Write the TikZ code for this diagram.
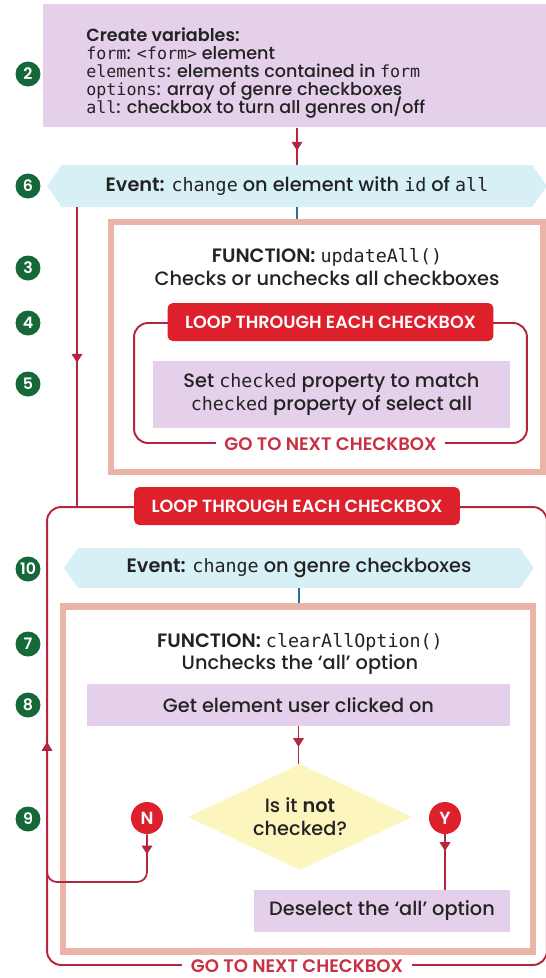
\documentclass[tikz,border=0pt]{standalone}
\usepackage{fontspec}
\setmainfont{Poppins Medium}[BoldFont=Poppins SemiBold]
\setmonofont{DejaVu Sans Mono}[Scale=0.95]
\usetikzlibrary{positioning,arrows.meta,shapes.geometric,shapes.symbols,decorations.markings}

\definecolor{lilac}{RGB}{228,208,234}
\definecolor{skyfill}{RGB}{214,240,246}
\definecolor{salmon}{RGB}{234,180,168}
\definecolor{loopred}{RGB}{222,32,44}
\definecolor{framered}{RGB}{178,38,62}
\definecolor{nextred}{RGB}{200,48,68}
\definecolor{badgegreen}{RGB}{22,104,56}
\definecolor{pale}{RGB}{252,246,190}
\definecolor{linkblue}{RGB}{40,110,160}
\definecolor{inkgray}{RGB}{35,35,35}

\newcommand{\cd}[1]{{\ttfamily #1}}
\newcommand{\tightlines}{\lineskiplimit=-20pt\relax}

\begin{document}
\begin{tikzpicture}[x=0.02cm,y=-0.02cm,font=\fontsize{11}{13}\selectfont,text=inkgray,
  badge/.style={circle,fill=badgegreen,text=white,font=\bfseries\fontsize{9}{9}\selectfont,minimum size=0.5cm,inner sep=0pt},
  lilacbox/.style={fill=lilac,inner sep=0pt,align=center},
  eventbar/.style={shape=signal,signal to=west and east,signal pointer angle=110,fill=skyfill,inner sep=0pt},
  funcbox/.style={draw=salmon,line width=3.5pt,fill=white},
  loopframe/.style={draw=framered,line width=1.1pt,rounded corners=0.28cm},
  looplabel/.style={fill=loopred,text=white,rounded corners=3pt,font=\bfseries\fontsize{10}{10}\selectfont,minimum width=6.52cm,minimum height=0.76cm},
  nextlabel/.style={fill=white,text=nextred,font=\bfseries\fontsize{10.3}{10}\selectfont,inner xsep=5pt,inner ysep=1pt},
  yn/.style={circle,fill=loopred,text=white,font=\bfseries\fontsize{10}{10}\selectfont,minimum size=0.64cm,inner sep=0pt},
  redline/.style={draw=framered,line width=1pt},
  tipat/.style={postaction={decorate},decoration={markings,mark=at position #1 with {\arrow{Triangle[width=6pt,length=5pt]}}}}]
  \useasboundingbox (0,0) rectangle (546,978);
  % variables
  \node[lilacbox,anchor=north west,minimum width=10.06cm,minimum height=2.46cm] (vars) at (43,4) {};
  \node[anchor=west,align=left,inner sep=0pt,font=\fontsize{10}{10.3}\selectfont\tightlines] (varlist) at (86,73)
    {{\bfseries Create variables:}\\
     \cd{form}: \cd{<form>} element\\
     \cd{elements}: elements contained in \cd{form}\\
     \cd{options}: array of genre checkboxes\\
     \cd{all}: checkbox to turn all genres on/off};
  % first event + function
  \node[eventbar,minimum width=10cm,minimum height=0.84cm] (ev1) at (297,186) {{\bfseries Event:} \cd{change} on element with \cd{id} of \cd{all}};
  \node[funcbox,minimum width=8.64cm,minimum height=5cm] (fn1) at (327,347) {};
  \node[align=center] (fn1head) at (327,267) {{\bfseries FUNCTION:} \cd{updateAll()}\\Checks or unchecks all checkboxes};
  \node[loopframe,minimum width=7.86cm,minimum height=2.4cm] (loop1) at (330.5,383) {};
  \node[looplabel] (lbl1) at (loop1.north) {LOOP THROUGH EACH CHECKBOX};
  \node[lilacbox,minimum width=7.14cm,minimum height=1.34cm] (set) at (331.5,394.5) {Set \cd{checked} property to match\\\cd{checked} property of select all};
  \node[nextlabel] (next1) at (loop1.south) {GO TO NEXT CHECKBOX};
  % outer loop
  \node[loopframe,minimum width=10cm,minimum height=9.16cm] (loop2) at (297,736) {};
  \node[looplabel] (lbl2) at (loop2.north) {LOOP THROUGH EACH CHECKBOX};
  \node[nextlabel] (next2) at (loop2.south) {GO TO NEXT CHECKBOX};
  % second event + function
  \node[eventbar,minimum width=9.4cm,minimum height=0.8cm] (ev2) at (299,568) {{\bfseries Event:} \cd{change} on genre checkboxes};
  \node[funcbox,minimum width=9.4cm,minimum height=6.9cm] (fn2) at (298,779) {};
  \node[align=center] (fn2head) at (300,654) {{\bfseries FUNCTION:} \cd{clearAllOption()}\\Unchecks the ‘all’ option};
  \node[lilacbox,minimum width=8.46cm,minimum height=0.84cm] (get) at (298.5,705) {Get element user clicked on};
  \node[diamond,fill=pale,aspect=2.1,inner sep=0pt,minimum width=4.48cm,minimum height=2.12cm,align=center] (cond) at (300,817) {Is it \textbf{not}\\checked?};
  \node[yn] (nobtn) at (147,818) {N};
  \node[yn] (yesbtn) at (445,818) {Y};
  \node[lilacbox,minimum width=5.12cm,minimum height=0.84cm] (desel) at (382,911) {Deselect the ‘all’ option};
  % step numbers
  \foreach \n/\y in {2/74,6/186,3/268,4/323,5/384,10/569,7/644,8/705,9/819}
    \node[badge] (b\n) at (28,\y) {\n};
  % connectors
  \coordinate (drop) at (77,0);
  \coordinate (back) at (47,882);
  \coordinate (backtop) at (47,742);
  \draw[redline,tipat=0.62] (ev1.north |- vars.south) -- (ev1.north);
  \draw[linkblue,line width=1pt] (ev1.south) -- (ev1.south |- fn1.north);
  \draw[redline,tipat=0.52] (ev1.south -| drop) -- (loop2.north -| drop);
  \draw[linkblue,line width=1pt] (ev2.south) -- (ev2.south |- fn2.north);
  \draw[redline,tipat=0.55] (get.south) -- (get.south |- cond.north);
  \draw[redline,rounded corners=0.2cm,tipat=0.4cm,-{Triangle[width=6pt,length=5pt]}] (nobtn.south) |- (back) -- (backtop);
  \draw[redline,tipat=0.3] (yesbtn.south) -- (yesbtn.south |- desel.north);
\end{tikzpicture}
\end{document}
